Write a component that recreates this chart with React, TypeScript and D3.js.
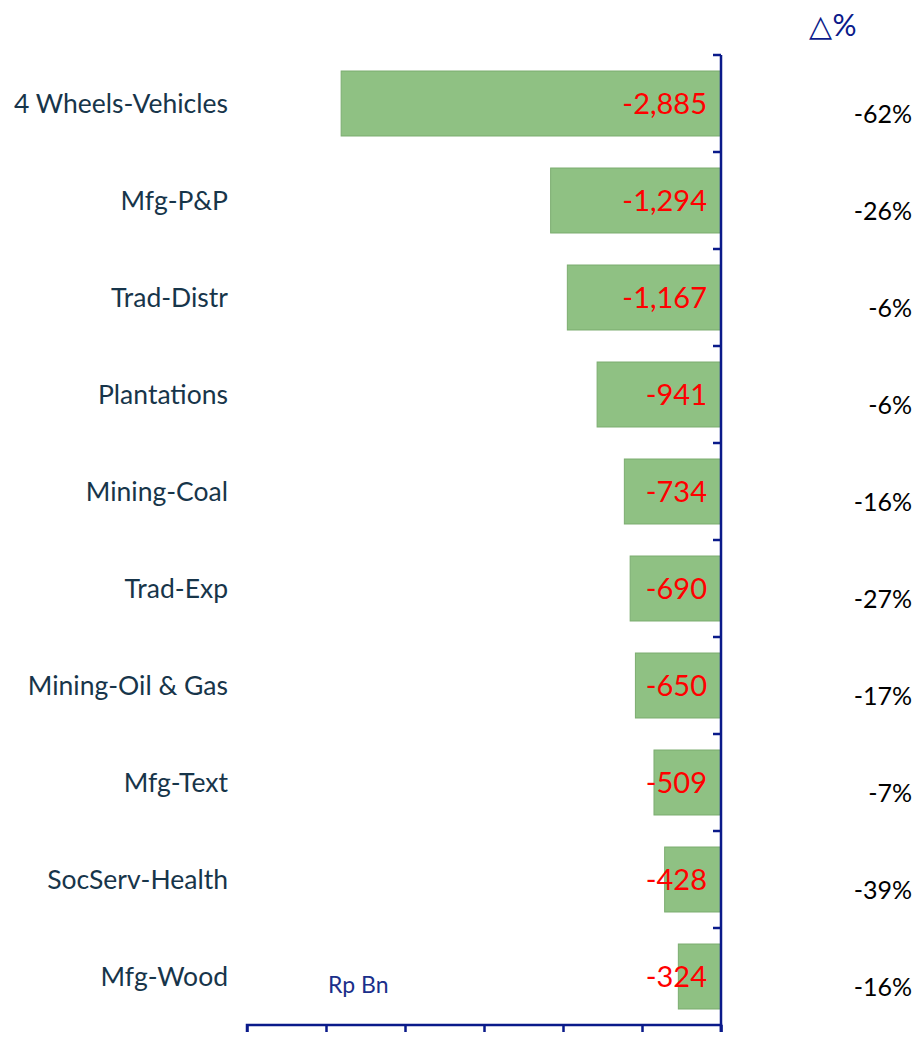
import * as d3 from "d3";
import { useEffect, useRef } from "react";

// chart data
const categories = [
  "4 Wheels-Vehicles",
  "Mfg-P&P",
  "Trad-Distr",
  "Plantations",
  "Mining-Coal",
  "Trad-Exp",
  "Mining-Oil & Gas",
  "Mfg-Text",
  "SocServ-Health",
  "Mfg-Wood",
];
const values = [-2885, -1294, -1167, -941, -734, -690, -650, -509, -428, -324];
const pctChange = ["-62%", "-26%", "-6%", "-6%", "-16%", "-27%", "-17%", "-7%", "-39%", "-16%"];
const xTicks = [-3600, -3000, -2400, -1800, -1200, -600, 0];

const W = 917;
const H = 1037;
const FONT = "Lato, 'Open Sans', sans-serif";
const NAVY = "#0a1a8a";

export default function App() {
  const svgRef = useRef<SVGSVGElement | null>(null);

  useEffect(() => {
    const svg = d3.select(svgRef.current);
    svg.selectAll("*").remove();

    const left = 247;
    const right = 721;
    const top = 55;
    const bottom = 1025;

    // SCALES
    const x = d3.scaleLinear().domain([-3600, 0]).range([left, right]);
    const y = d3
      .scaleBand<string>()
      .domain(categories)
      .range([top, bottom])
      .paddingInner(0.33)
      .paddingOuter(0.165);
    const step = y.step();

    // BARS
    svg
      .append("g")
      .selectAll("rect")
      .data(values)
      .enter()
      .append("rect")
      .attr("x", (d) => x(d))
      .attr("y", (_, i) => y(categories[i])!)
      .attr("width", (d) => x(0) - x(d))
      .attr("height", y.bandwidth())
      .attr("fill", "#8fc183")
      .attr("stroke", "#7cad70")
      .attr("stroke-width", 1);

    // X AXIS (no labels)
    const xAxis = d3.axisBottom(x).tickValues(xTicks).tickSize(7).tickFormat(() => "");
    const gx = svg.append("g").attr("transform", `translate(0, ${bottom})`).call(xAxis);
    gx.selectAll("path, line").attr("stroke", NAVY).attr("stroke-width", 2.5);
    gx.select(".domain").attr("d", `M${left},7V0H${right}V7`);

    // Y AXIS at zero with ticks at category boundaries
    const gy = svg.append("g");
    gy.append("line")
      .attr("x1", x(0))
      .attr("x2", x(0))
      .attr("y1", top)
      .attr("y2", bottom + 7)
      .attr("stroke", NAVY)
      .attr("stroke-width", 2.5);
    gy.selectAll("line.tick")
      .data(d3.range(categories.length))
      .enter()
      .append("line")
      .attr("class", "tick")
      .attr("x1", x(0) - 8)
      .attr("x2", x(0))
      .attr("y1", (i) => top + i * step)
      .attr("y2", (i) => top + i * step)
      .attr("stroke", NAVY)
      .attr("stroke-width", 2.5);

    // CATEGORY LABELS
    svg
      .append("g")
      .selectAll("text")
      .data(categories)
      .enter()
      .append("text")
      .attr("x", 228)
      .attr("y", (d) => y(d)! + y.bandwidth() / 2)
      .attr("dy", "0.35em")
      .attr("text-anchor", "end")
      .attr("font-family", FONT)
      .attr("font-size", 26.5)
      .attr("fill", "#17354a")
      .text((d) => d);

    // VALUE LABELS
    svg
      .append("g")
      .selectAll("text")
      .data(values)
      .enter()
      .append("text")
      .attr("x", x(0) - 14)
      .attr("y", (_, i) => y(categories[i])! + y.bandwidth() / 2)
      .attr("dy", "0.36em")
      .attr("text-anchor", "end")
      .attr("font-family", FONT)
      .attr("font-size", 29)
      .attr("fill", "#ff0000")
      .text((d) => d3.format(",")(d).replace("−", "-"));

    // PERCENT CHANGE LABELS
    svg
      .append("g")
      .selectAll("text")
      .data(pctChange)
      .enter()
      .append("text")
      .attr("x", 912)
      .attr("y", (_, i) => y(categories[i])! + y.bandwidth() / 2 + 11)
      .attr("dy", "0.35em")
      .attr("text-anchor", "end")
      .attr("font-family", FONT)
      .attr("font-size", 25)
      .attr("fill", "#000")
      .text((d) => d);

    // HEADERS
    svg
      .append("text")
      .attr("x", 833)
      .attr("y", 36)
      .attr("text-anchor", "middle")
      .attr("font-family", FONT)
      .attr("font-size", 30)
      .attr("fill", NAVY)
      .text("△%");
    svg
      .append("text")
      .attr("x", 328)
      .attr("y", 993)
      .attr("font-family", FONT)
      .attr("font-size", 23)
      .attr("fill", "#1a2f8a")
      .text("Rp Bn");
  }, []);

  return (
    <svg
      ref={svgRef}
      width={W}
      height={H}
      style={{ position: "absolute", left: 0, top: 0, background: "#fff" }}
    />
  );
}
